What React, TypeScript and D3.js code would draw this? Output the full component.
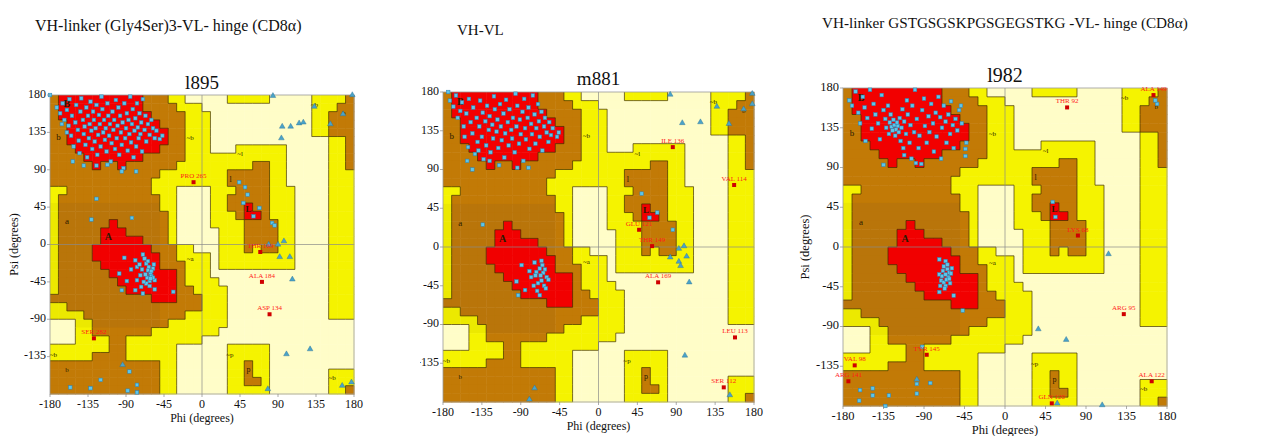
import * as d3 from "d3";

// colours of the PROCHECK regions: R core, B allowed, Y generous, W disallowed
const REGION_COLORS: Record<string, string> = {
  R: "#f20000",
  B: "#c27a06",
  Y: "#f5f300",
  W: "#fffdc8",
};
// the scanned figure is a little darker in the lower-left block
const SHADED_COLORS: Record<string, string> = {
  R: "#f10000",
  B: "#b9750a",
  Y: "#ecE900",
  W: "#fffdc8",
};

// 10-degree cells, one string per row from psi 180 downwards, runs from phi -180
const regionRuns = [
  "B1R10B3Y2W5Y5W5Y4B1",
  "B1R10B4Y3W13Y3B2",
  "B1R11B4Y3W12Y2B3",
  "B2R11B3Y3W12Y2B3",
  "B2R12B2Y3W12Y2B3",
  "B2R12B2Y3W14Y2B1",
  "B3R10B3Y3W3Y6W5Y2B1",
  "B4R7B5Y12W5Y2B1",
  "B5R1B2R1B6Y9B2Y2W5Y2B1",
  "B13Y8B5Y2W5Y3",
  "B12Y9B5Y2W5Y3",
  "Y2B10Y3W4Y3B4Y3W4Y3",
  "Y1B12Y2W4Y2B5Y3W4Y3",
  "Y1B12Y2W4Y2B2R1B2Y3W4Y3",
  "Y1B13Y1W4Y3B1R2B1Y3W4Y3",
  "Y1B6R1B6Y1W4Y4B4Y2W4Y3",
  "Y1B5R3B5Y1W5Y3B4Y2W4Y3",
  "Y1B5R5B3Y1W5Y3B4Y2W4Y3",
  "Y1B4R7B3Y2W3Y3B1Y1B2Y2W4Y3",
  "Y1B4R8B2Y4W1Y9W4Y3",
  "Y1B5R7B3Y3W1Y9W4Y3",
  "Y1B6R8B1Y3W14Y3",
  "Y1B7R7B1Y4W13Y3",
  "Y1B8R6B2Y4W12Y3",
  "B12R3B3Y3W12Y3",
  "Y2B16Y3W12Y3",
  "Y4B12Y5W12Y3",
  "W3Y2B9Y7W15",
  "W3Y2B7Y8W16",
  "W3Y4B2Y9W18",
  "Y7B2Y6W6Y5W10",
  "Y5B4Y6W6Y5W10",
  "B13Y2W6Y2B1Y2W10",
  "B13Y2W6Y2B1Y2W7Y3",
  "B13Y2W6Y2B2Y1W7Y3",
  "B13Y2W6Y5W7Y2B1",
];

const regionGrid: string[][] = regionRuns.map((s) => {
  const row: string[] = [];
  for (const m of s.matchAll(/([RBYW])(\d+)/g)) {
    for (let i = 0; i < +m[2]; i++) row.push(m[1]);
  }
  return row;
});

// region labels [text, phi, psi, font size]
const regionLabels: [string, number, number, number][] = [
  ["B", -160, 168, 10],
  ["b", -170, 128, 9],
  ["a", -160, 27, 9],
  ["A", -111, 8, 10],
  ["~b", -14, 128, 7],
  ["~a", -14, -18, 7],
  ["~l", 45, 108, 7],
  ["l", 34, 78, 8],
  ["L", 55, 42, 9],
  ["~p", 33, -133, 7],
  ["p", 55, -151, 8],
  ["~b", -176, -133, 7],
  ["b", -160, -151, 7],
  ["~b", 133, 168, 7],
  ["b", 168, 158, 7],
  ["~b", 154, -161, 7],
];

const xTicks = [-180, -135, -90, -45, 0, 45, 90, 135, 180];
const yTicks = [180, 135, 90, 45, 0, -45, -90, -135];

const pageTitles = [
  "VH-linker (Gly4Ser)3-VL- hinge (CD8\u03b1)",
  "VH-VL",
  "VH-linker GSTGSGSKPGSGEGSTKG -VL- hinge (CD8\u03b1)",
];
const plotNames = ["l895", "m881", "l982"];

// ---- l895 ----
const resid1: [number, number][] = [
  [-180, 180], [-172, 165], [-168, 158], [-165, 170], [-163, 150], [-160, 162], [-158, 143], [-157, 175],
  [-155, 131], [-154, 155], [-152, 118], [-150, 147], [-149, 168], [-147, 138], [-146, 125], [-145, 110],
  [-144, 160], [-143, 176], [-141, 150], [-140, 133], [-139, 142], [-138, 120], [-137, 165], [-136, 105],
  [-135, 155], [-134, 128], [-133, 145], [-132, 172], [-131, 137], [-130, 115], [-129, 160], [-128, 150],
  [-127, 124], [-126, 140], [-125, 168], [-124, 108], [-123, 132], [-122, 156], [-121, 145], [-120, 118],
  [-119, 178], [-118, 163], [-117, 135], [-116, 150], [-115, 126], [-114, 140], [-113, 112], [-112, 170],
  [-111, 155], [-110, 131], [-109, 145], [-108, 100], [-107, 122], [-106, 160], [-105, 138], [-104, 150],
  [-103, 115], [-102, 174], [-101, 128], [-100, 143], [-99, 165], [-98, 108], [-97, 155], [-96, 135],
  [-95, 120], [-94, 147], [-93, 92], [-92, 170], [-91, 128], [-90, 140], [-89, 158], [-88, 113],
  [-87, 150], [-86, 133], [-85, 178], [-84, 123], [-83, 145], [-82, 163], [-81, 105], [-80, 137],
  [-79, 152], [-78, 118], [-77, 170], [-76, 141], [-75, 128], [-74, 158], [-73, 133], [-72, 147],
  [-71, 112], [-70, 175], [-68, 138], [-67, 155], [-66, 124], [-64, 145], [-62, 132], [-60, 150],
  [-58, 140], [-56, 128], [-54, 137], [-50, 127], [-47, 131], [-153, 100], [-140, 95], [-125, 95],
  [-112, 96], [-95, 88], [-78, 88], [-160, 135], [-166, 145], [-125, 55], [-131, 30], [-83, 32],
  [-92, -16], [-79, -19], [-77, -27], [-70, -12], [-68, -17], [-66, -23], [-64, -31], [-61, -35],
  [-58, -29], [-60, -38], [-56, -43], [-73, -37], [-77, -43], [-89, -44], [-98, -35], [-95, -55],
  [-79, -55], [-70, -59], [-56, -54], [-34, -57], [-65, -40], [-62, -44], [-67, -36], [-63, -27],
  [-60, -32], [-58, -40], [-71, -30], [-74, -24], [-66, -47], [-62, -50], [-84, -30], [-69, -45],
  [-72, -51], [-64, -20], [-57, -24], [-61, -41],
  [44, 75], [51, 69], [54, 60], [49, 50], [68, 44], [61, 34], [83, 26], [86, 23],
  [-156, -172], [-132, -173], [-120, -163], [-86, -153], [-77, -169], [-88, -176], [-77, -178],
];
const gly1: [number, number][] = [
  [84, 179], [95, 142], [105, 142], [94, 128], [115, 146], [120, 147], [133, 166], [152, 145],
  [167, 157], [178, 180], [100, -132], [128, -126], [78, -174], [166, -170], [177, -166], [107, -42],
  [97, 4], [92, -15], [104, -15], [79, 0], [90, 0], [-94, -145],
];
const flag1: [string, number, number][] = [
  ["PRO 265", -10, 75],
  ["SER 282", -128, -113],
  ["ALA 184", 71, -45],
  ["ASP 134", 80, -84],
  ["THR 169", 69, -9],
];

// ---- m881 ----
const resid2: [number, number][] = [
  [-174, 180], [-172, 170], [-168, 163], [-165, 176], [-163, 150], [-160, 158], [-158, 168], [-156, 140],
  [-155, 128], [-153, 155], [-151, 116], [-150, 172], [-148, 145], [-146, 132], [-145, 162], [-143, 108],
  [-141, 150], [-140, 122], [-138, 140], [-137, 170], [-135, 128], [-134, 156], [-133, 102], [-131, 146],
  [-130, 118], [-129, 164], [-127, 136], [-126, 152], [-125, 110], [-123, 142], [-122, 126], [-121, 175],
  [-120, 160], [-118, 134], [-117, 148], [-116, 115], [-114, 166], [-113, 140], [-112, 124], [-110, 155],
  [-109, 104], [-108, 132], [-107, 171], [-105, 145], [-104, 118], [-103, 160], [-101, 136], [-100, 126],
  [-99, 150], [-97, 110], [-96, 178], [-95, 140], [-94, 164], [-92, 120], [-91, 148], [-90, 131],
  [-88, 157], [-87, 100], [-86, 172], [-85, 138], [-84, 125], [-82, 150], [-81, 162], [-80, 114],
  [-78, 143], [-77, 131], [-76, 176], [-74, 154], [-73, 120], [-72, 138], [-70, 166], [-69, 146],
  [-68, 128], [-66, 157], [-65, 112], [-63, 140], [-62, 150], [-60, 133], [-58, 122], [-57, 145],
  [-55, 130], [-53, 138], [-48, 128], [-46, 133], [-146, 90], [-115, 95], [-94, 92], [-81, 92],
  [-126, 100], [-139, 112], [-152, 100], [-134, 26],
  [-89, -21], [-74, -18], [-66, -16], [-68, -25], [-62, -26], [-78, -35], [-73, -33], [-66, -39],
  [-60, -35], [-95, -40], [-85, -50], [-71, -51], [-68, -56], [-93, -56], [-64, -30], [-70, -42],
  [-63, -45], [-58, -38], [-65, -21], [-75, -45], [-80, -28], [-61, -48], [-67, -33], [-72, -29],
  [50, 62], [59, 34], [68, 40], [86, 20],
];
const gly2: [number, number][] = [
  [83, 177], [97, 144], [118, 145], [137, 163], [151, 143], [168, 160], [178, 178], [178, 166],
  [100, -126], [152, -172], [-74, -164], [-80, -177], [99, 1], [93, -2], [83, -12], [102, -11],
  [93, -17], [95, -22], [105, -41],
];
const flag2: [string, number, number][] = [
  ["ILE 136", 86, 116],
  ["VAL 114", 157, 72],
  ["GLU 121", 47, 20],
  ["THR 149", 62, 1],
  ["ALA 169", 69, -41],
  ["LEU 113", 158, -105],
  ["SER 112", 145, -163],
];

// ---- l982 ----
const resid3: [number, number][] = [
  [-173, 166], [-170, 160], [-166, 176], [-163, 152], [-161, 140], [-158, 170], [-156, 158], [-153, 146],
  [-150, 178], [-148, 134], [-146, 162], [-144, 150], [-141, 140], [-139, 122], [-137, 172], [-135, 155],
  [-133, 145], [-132, 135], [-130, 160], [-129, 128], [-128, 141], [-127, 150], [-126, 136], [-125, 132],
  [-124, 144], [-123, 138], [-122, 126], [-121, 133], [-120, 141], [-119, 137], [-118, 130], [-117, 146],
  [-116, 120], [-115, 135], [-114, 156], [-113, 112], [-112, 142], [-110, 128], [-109, 166], [-108, 150],
  [-106, 118], [-105, 138], [-104, 100], [-103, 160], [-101, 130], [-100, 178], [-98, 145], [-96, 112],
  [-95, 126], [-93, 94], [-92, 155], [-90, 168], [-89, 137], [-87, 118], [-85, 148], [-84, 130],
  [-82, 162], [-80, 140], [-79, 108], [-77, 152], [-76, 125], [-74, 170], [-72, 147], [-71, 100],
  [-70, 135], [-68, 160], [-66, 142], [-65, 118], [-63, 150], [-61, 128], [-60, 165], [-58, 138],
  [-57, 112], [-55, 145], [-53, 132], [-51, 155], [-49, 160], [-48, 140], [-44, 111], [-44, 103],
  [-43, 118], [-99, 95], [-135, 93], [-112, 104], [-155, 120],
  [-73, -14], [-66, -16], [-73, -31], [-64, -25], [-59, -24], [-71, -38], [-68, -40], [-66, -44],
  [-63, -34], [-57, -55], [-73, -51], [-47, -72], [-68, -22], [-62, -29], [-70, -33], [-65, -37],
  [-61, -41], [-67, -47], [-64, -20], [-60, -30], [-69, -27], [-72, -44], [-62, -36], [-66, -31],
  [53, 51], [56, 34], [-161, -162], [-147, -160], [-162, -174], [-147, -168], [-129, -168], [-98, -155],
  [-83, -154], [-98, -166], [-92, -113], [169, 162], [167, 166], [-133, -180],
];
const gly3: [number, number][] = [
  [37, -93], [68, -105], [115, -8], [108, -179], [58, -177], [-98, -150],
];
const flag3: [string, number, number][] = [
  ["THR 92", 69, 158],
  ["ALA 149", 165, 172],
  ["LYS 68", 81, 13],
  ["ARG 95", 132, -76],
  ["ALA 122", 163, -152],
  ["GLN 120", 52, -177],
  ["VAL 98", -167, -134],
  ["ARG 141", -174, -152],
  ["TYR 145", -87, -122],
];

const SERIF = "'Liberation Serif', 'Times New Roman', serif";

type PanelProps = {
  x0: number;
  y0: number;
  w: number;
  h: number;
  name: string;
  nameSize: number;
  nameY: number;
  tickSize: number;
  showPsi: boolean;
  psiX: number;
  hidden: number[];
  resid: [number, number][];
  gly: [number, number][];
  flagged: [string, number, number][];
};

const Ramachandran = (p: PanelProps) => {
  const { x0, y0, w, h } = p;
  const xs = d3.scaleLinear().domain([-180, 180]).range([x0, x0 + w]);
  const ys = d3.scaleLinear().domain([-180, 180]).range([y0 + h, y0]);

  const cells: JSX.Element[] = [];
  let borders = "";
  regionGrid.forEach((row, r) => {
    row.forEach((code, c) => {
      const xa = xs(-180 + 10 * c);
      const xb = xs(-170 + 10 * c);
      const ya = ys(180 - 10 * r);
      const yb = ys(170 - 10 * r);
      const shaded = r >= 13 && r <= 27 && c <= 12;
      cells.push(
        <rect key={`${r}-${c}`} x={xa} y={ya} width={xb - xa + 0.5} height={yb - ya + 0.5} fill={(shaded ? SHADED_COLORS : REGION_COLORS)[code]} />
      );
      if (c < 35 && row[c + 1] !== code) borders += `M${xb},${ya}V${yb}`;
      if (r < 35 && regionGrid[r + 1][c] !== code) borders += `M${xa},${yb}H${xb}`;
    });
  });

  const tri = d3.symbol().type(d3.symbolTriangle).size(14)();

  return (
    <g>
      {cells}
      <path d={borders} stroke="#3b2b00" strokeWidth={0.8} fill="none" opacity={0.85} />
      <line x1={xs(0)} x2={xs(0)} y1={y0} y2={y0 + h} stroke="#8a8a8a" strokeWidth={0.7} />
      <line x1={x0} x2={x0 + w} y1={ys(0)} y2={ys(0)} stroke="#8a8a8a" strokeWidth={0.7} />
      <rect x={x0} y={y0} width={w} height={h} fill="none" stroke="#9a9a9a" strokeWidth={0.8} />

      {regionLabels.map(([t, ph, ps, s], i) =>
        p.hidden.includes(i) ? null : (
          <text key={i} x={xs(ph)} y={ys(ps)} fontSize={s} fontFamily={SERIF} fill="#2a1a00" textAnchor="middle" dominantBaseline="middle" fontWeight={t.length === 1 && t === t.toUpperCase() ? "bold" : "normal"}>
            {t}
          </text>
        )
      )}

      {p.resid.map(([ph, ps], i) => (
        <rect key={i} x={xs(ph) - 1.8} y={ys(ps) - 1.8} width={3.6} height={3.6} fill="#5cc6ea" stroke="#2f7fae" strokeWidth={0.5} />
      ))}
      {p.gly.map(([ph, ps], i) => (
        <path key={i} d={tri!} transform={`translate(${xs(ph)},${ys(ps)})`} fill="#4aa3c8" stroke="#2a6f95" strokeWidth={0.4} />
      ))}
      {p.flagged.map(([t, ph, ps], i) => (
        <g key={i}>
          <rect x={xs(ph) - 2} y={ys(ps) - 2} width={4} height={4} fill="#d00000" />
          <text x={xs(ph)} y={ys(ps) - 4} fontSize={7} fontFamily={SERIF} fill="#ff1a1a" textAnchor="middle">
            {t}
          </text>
        </g>
      ))}

      {xTicks.map((t) => (
        <g key={t}>
          <line x1={xs(t)} x2={xs(t)} y1={y0 + h} y2={y0 + h + 3} stroke="#888" strokeWidth={0.7} />
          <text x={xs(t)} y={y0 + h + 14} fontSize={p.tickSize} fontFamily={SERIF} textAnchor="middle" fill="#111">
            {t}
          </text>
        </g>
      ))}
      {yTicks.map((t) => (
        <g key={t}>
          <line x1={x0 - 3} x2={x0} y1={ys(t)} y2={ys(t)} stroke="#888" strokeWidth={0.7} />
          <text x={x0 - 4} y={ys(t)} fontSize={p.tickSize} fontFamily={SERIF} textAnchor="end" dominantBaseline="middle" fill="#111">
            {t}
          </text>
        </g>
      ))}
      <text x={x0 + w / 2} y={y0 + h + 28} fontSize={p.tickSize} fontFamily={SERIF} textAnchor="middle" fill="#111">
        Phi (degrees)
      </text>
      {p.showPsi && (
        <text transform={`translate(${p.psiX},${y0 + h / 2}) rotate(-90)`} fontSize={p.tickSize} fontFamily={SERIF} textAnchor="middle" dominantBaseline="middle" fill="#111">
          Psi (degrees)
        </text>
      )}
      <text x={x0 + w / 2} y={p.nameY} fontSize={p.nameSize} fontFamily={SERIF} textAnchor="middle" fill="#111">
        {p.name}
      </text>
    </g>
  );
};

export default function App() {
  return (
    <svg width={1264} height={436} style={{ position: "absolute", left: 0, top: 0, background: "#fff" }}>
      <defs>
        <clipPath id="clip2">
          <rect x={420} y={0} width={380} height={436} />
        </clipPath>
      </defs>
      <rect width={1264} height={436} fill="#fff" />
      <text x={35} y={31} fontSize={16} fontFamily={SERIF} fill="#111">{pageTitles[0]}</text>
      <text x={457} y={35} fontSize={15} fontFamily={SERIF} fill="#111">{pageTitles[1]}</text>
      <text x={822} y={28} fontSize={15.2} fontFamily={SERIF} fill="#111">{pageTitles[2]}</text>

      <Ramachandran x0={50} y0={95} w={304} h={299} name={plotNames[0]} nameSize={19} nameY={89} tickSize={12} showPsi psiX={15} hidden={[]} resid={resid1} gly={gly1} flagged={flag1} />
      <g clipPath="url(#clip2)">
        <Ramachandran x0={443} y0={92} w={311} h={310} name={plotNames[1]} nameSize={19} nameY={85} tickSize={12} showPsi={false} psiX={0} hidden={[15]} resid={resid2} gly={gly2} flagged={flag2} />
      </g>
      <Ramachandran x0={843} y0={88} w={324} h={318} name={plotNames[2]} nameSize={20} nameY={82} tickSize={12.5} showPsi psiX={806} hidden={[11, 12]} resid={resid3} gly={gly3} flagged={flag3} />
    </svg>
  );
}
